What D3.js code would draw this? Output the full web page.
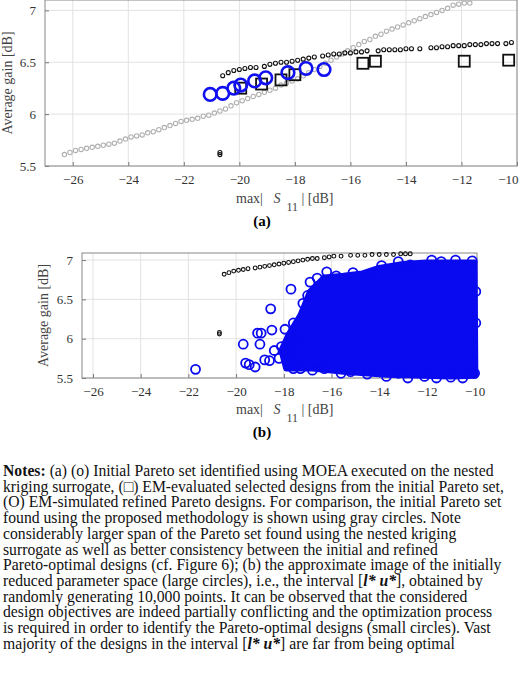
<!DOCTYPE html>
<html><head><meta charset="utf-8">
<script src="https://cdn.jsdelivr.net/npm/d3@7"></script>
<style>body{margin:0;background:#fff}svg{display:block}text{font-family:"Liberation Serif","DejaVu Serif","Times New Roman",serif}</style></head>
<body><svg id="c" width="520" height="686"></svg>
<script>
const xTicks=[-26,-24,-22,-20,-18,-16,-14,-12,-10];
const yTicks=[5.5,6,6.5,7];
// (a) data
const grayA=[[-26.3,5.61],[-26.1,5.63],[-25.9,5.65],[-25.7,5.66],[-25.5,5.67],[-25.3,5.68],[-25.1,5.69],[-24.9,5.70],[-24.7,5.71],[-24.5,5.72],[-24.3,5.74],[-24.1,5.76],[-23.9,5.78],[-23.7,5.79],[-23.5,5.80],[-23.3,5.82],[-23.1,5.83],[-22.9,5.85],[-22.7,5.87],[-22.5,5.89],[-22.3,5.91],[-22.1,5.93],[-21.9,5.94],[-21.7,5.95],[-21.5,5.96],[-21.3,5.98],[-21.1,5.99],[-20.9,6.01],[-20.7,6.03],[-20.5,6.05],[-20.3,6.08],[-20.1,6.11],[-19.9,6.13],[-19.7,6.15],[-19.5,6.17],[-19.3,6.19],[-19.1,6.21],[-18.9,6.23],[-18.7,6.25],[-18.5,6.28],[-18.3,6.30],[-18.1,6.32],[-17.9,6.34],[-17.7,6.37],[-17.5,6.40],[-17.3,6.43],[-17.1,6.46],[-16.9,6.49],[-16.7,6.52],[-16.5,6.55],[-16.3,6.58],[-16.1,6.61],[-15.9,6.64],[-15.7,6.67],[-15.5,6.70],[-15.3,6.72],[-15.1,6.75],[-14.9,6.77],[-14.7,6.80],[-14.5,6.82],[-14.3,6.84],[-14.1,6.86],[-13.9,6.88],[-13.7,6.90],[-13.5,6.92],[-13.3,6.94],[-13.1,6.96],[-12.9,6.98],[-12.7,7.00],[-12.5,7.02],[-12.3,7.05],[-12.1,7.06],[-11.9,7.07],[-11.7,7.07]];
const blackA=[[-20.6,6.37],[-20.4,6.40],[-20.2,6.42],[-20.0,6.43],[-19.8,6.44],[-19.6,6.45],[-19.4,6.45],[-19.1,6.46],[-18.9,6.48],[-18.7,6.49],[-18.5,6.50],[-18.3,6.50],[-18.1,6.51],[-17.9,6.52],[-17.7,6.53],[-17.5,6.54],[-17.3,6.55],[-17.0,6.56],[-16.8,6.57],[-16.6,6.58],[-16.4,6.58],[-16.2,6.59],[-16.0,6.59],[-15.8,6.60],[-15.6,6.60],[-15.4,6.61],[-15.0,6.61],[-14.8,6.62],[-14.6,6.62],[-14.4,6.62],[-14.2,6.62],[-14.0,6.63],[-13.8,6.63],[-13.5,6.63],[-13.1,6.64],[-12.9,6.64],[-12.7,6.65],[-12.5,6.65],[-12.3,6.66],[-12.1,6.66],[-11.9,6.66],[-11.7,6.67],[-11.5,6.67],[-11.3,6.67],[-11.1,6.68],[-10.9,6.68],[-10.7,6.68],[-10.4,6.68],[-10.2,6.69],[-20.7,5.61],[-20.7,5.63]];
const blueA=[[-21.05,6.19],[-20.6,6.20],[-20.2,6.25],[-19.95,6.28],[-19.45,6.32],[-19.05,6.35],[-18.25,6.40],[-17.6,6.44],[-16.95,6.43]];
const squaresA=[[-19.95,6.25],[-19.2,6.29],[-18.5,6.33],[-18.0,6.38],[-15.55,6.49],[-15.1,6.51],[-11.9,6.51],[-10.3,6.52]];
// (b) data
const blackB=[[-20.5,6.82],[-20.3,6.84],[-20.1,6.86],[-19.9,6.87],[-19.7,6.88],[-19.5,6.89],[-19.2,6.90],[-19.0,6.91],[-18.8,6.92],[-18.6,6.93],[-18.4,6.94],[-18.2,6.95],[-18.0,6.96],[-17.8,6.97],[-17.6,6.98],[-17.4,6.99],[-17.2,7.00],[-17.0,7.01],[-16.8,7.02],[-16.6,7.02],[-16.3,7.03],[-16.1,7.04],[-15.9,7.05],[-15.6,7.05],[-15.2,7.06],[-14.9,7.06],[-14.6,7.06],[-14.3,7.07],[-14.0,7.07],[-13.7,7.07],[-13.4,7.07],[-13.1,7.08],[-12.9,7.08],[-12.7,7.08],[-20.7,6.06],[-20.7,6.08]];
const blueOut=[[-21.7,5.61],[-19.7,5.93],[-19.6,5.69],[-19.45,5.67],[-19.2,5.64],[-19.1,6.07],[-18.95,6.07],[-19.0,5.93],[-18.8,5.73],[-18.6,5.72],[-18.55,6.38],[-18.5,6.11],[-18.2,5.75],[-17.7,6.63],[-17.95,6.12],[-18.4,5.85],[-18.1,5.9],[-17.8,5.68],[-17.6,5.62],[-17.2,6.45],[-17.6,6.2],[-17.3,5.62],[-16.9,6.72],[-16.6,6.77],[-16.2,6.85],[-15.8,6.8],[-15.1,6.84],[-14.4,6.82],[-13.9,6.93],[-13.2,6.98],[-12.7,6.94],[-11.8,7.0],[-11.4,6.98],[-10.8,7.0],[-10.1,6.99],[-17.0,6.55],[-16.8,5.6],[-16.3,5.62],[-15.6,5.56],[-15.2,5.58],[-14.5,5.55],[-13.7,5.52],[-13.2,5.56],[-12.8,5.5],[-12.1,5.52],[-11.6,5.5],[-11.0,5.51],[-10.5,5.5],[-10.0,5.56],[-9.95,6.2],[-9.95,6.6],[-17.4,6.0],[-17.7,5.85]];
const cloud=[[-17.9,5.62],[-18.1,5.85],[-17.8,6.05],[-17.3,6.3],[-16.9,6.6],[-16.3,6.78],[-15.5,6.8],[-14.7,6.83],[-14.0,6.9],[-13.0,6.95],[-12.0,6.97],[-10.0,6.97],[-9.97,5.53],[-11,5.52],[-13.7,5.54],[-15.5,5.58],[-16.8,5.62]];

const svg=d3.select("#c");
const FF='"Liberation Serif","DejaVu Serif",serif';
function panel(o){
  const g=svg.append("g");
  const x=d3.scaleLinear().domain(o.xd).range([o.l,o.r]);
  const y=d3.scaleLinear().domain(o.yd).range([o.b,o.t]);
  g.append("g").selectAll("line").data(xTicks).join("line").attr("x1",d=>x(d)).attr("x2",d=>x(d)).attr("y1",o.t).attr("y2",o.b).attr("stroke","#e2e2e2");
  g.append("g").selectAll("line").data(yTicks).join("line").attr("y1",d=>y(d)).attr("y2",d=>y(d)).attr("x1",o.l).attr("x2",o.r).attr("stroke","#e2e2e2");
  g.append("g").attr("transform",`translate(0,${o.b})`).call(d3.axisBottom(x).tickValues(xTicks).tickSize(-4).tickPadding(9).tickFormat(d=>String(d).replace("-","\u2212")))
   .call(a=>{a.select(".domain").remove();a.attr("font-family",FF).attr("font-size",13);a.selectAll("line").attr("stroke","#777");a.selectAll("text").attr("fill","#333");
     if(o.lastEnd) a.selectAll("text").filter(d=>d===-10).attr("text-anchor","end").attr("x",518-x(-10));});
  g.append("g").attr("transform",`translate(${o.l},0)`).call(d3.axisLeft(y).tickValues(yTicks).tickSize(-4).tickPadding(9).tickFormat(d=>d))
   .call(a=>{a.select(".domain").remove();a.attr("font-family",FF).attr("font-size",13);a.selectAll("line").attr("stroke","#777");a.selectAll("text").attr("fill","#333");});
  g.append("rect").attr("x",o.l).attr("y",o.t).attr("width",o.r-o.l).attr("height",o.b-o.t).attr("fill","none").attr("stroke","#888");
  g.append("text").attr("transform",`translate(${o.yl},${(o.t+o.b)/2}) rotate(-90)`).attr("text-anchor","middle").attr("font-size",14).attr("fill","#444").text("Average gain [dB]");
  const xl=g.append("text").attr("x",o.xlx).attr("y",o.xly).attr("font-size",14).attr("fill","#444");
  xl.append("tspan").text("max|\u00a0\u00a0\u00a0");
  xl.append("tspan").attr("font-style","italic").text("S");
  xl.append("tspan").attr("dy",8).attr("font-size",12).text("\u00a0\u00a011");
  xl.append("tspan").attr("dy",-8).text(" | [dB]");
  g.append("text").attr("x",o.capx).attr("y",o.capy).attr("text-anchor","middle").attr("font-weight","bold").attr("font-size",15).text(o.cap);
  return {g,x,y};
}
const A=panel({xd:[-27,-10],yd:[5.5,7.1],l:45,r:517,t:0,b:166,yl:12,xlx:236,xly:203,capx:262,capy:226,cap:"(a)",lastEnd:true});
A.g.append("g").selectAll("circle").data(grayA).join("circle").attr("cx",d=>A.x(d[0])).attr("cy",d=>A.y(d[1])).attr("r",2.2).attr("fill","none").attr("stroke","#b0b0b0").attr("stroke-width",1.1);
A.g.append("g").selectAll("circle").data(blackA).join("circle").attr("cx",d=>A.x(d[0])).attr("cy",d=>A.y(d[1])).attr("r",2).attr("fill","none").attr("stroke","#111").attr("stroke-width",1.1);
A.g.append("g").selectAll("rect").data(squaresA).join("rect").attr("x",d=>A.x(d[0])-5.5).attr("y",d=>A.y(d[1])-5.5).attr("width",11).attr("height",11).attr("fill","none").attr("stroke","#111").attr("stroke-width",1.8);
A.g.append("g").selectAll("circle").data(blueA).join("circle").attr("cx",d=>A.x(d[0])).attr("cy",d=>A.y(d[1])).attr("r",6.3).attr("fill","none").attr("stroke","#1010f0").attr("stroke-width",2.6);

const B=panel({xd:[-26.46,-9.9],yd:[5.5,7.09],l:82,r:477,t:253,b:378,yl:48,xlx:236,xly:414,capx:262,capy:437,cap:"(b)"});
B.g.append("g").selectAll("circle").data(blackB).join("circle").attr("cx",d=>B.x(d[0])).attr("cy",d=>B.y(d[1])).attr("r",1.9).attr("fill","none").attr("stroke","#111").attr("stroke-width",1.1);
B.g.append("path").datum(cloud).attr("d",d3.line().x(d=>B.x(d[0])).y(d=>B.y(d[1])).curve(d3.curveLinearClosed)).attr("fill","#0a0af0").attr("stroke","#0a0af0").attr("stroke-width",6).attr("stroke-linejoin","round");
B.g.append("g").selectAll("circle").data(blueOut).join("circle").attr("cx",d=>B.x(d[0])).attr("cy",d=>B.y(d[1])).attr("r",4.5).attr("fill","none").attr("stroke","#0a0af0").attr("stroke-width",1.8);

const notes=[
[["b","Notes:"],[""," (a) (o) Initial Pareto set identified using MOEA executed on the nested"]],
[["","kriging surrogate, (\u25A1) EM-evaluated selected designs from the initial Pareto set,"]],
[["","(O) EM-simulated refined Pareto designs. For comparison, the initial Pareto set"]],
[["","found using the proposed methodology is shown using gray circles. Note"]],
[["","considerably larger span of the Pareto set found using the nested kriging"]],
[["","surrogate as well as better consistency between the initial and refined"]],
[["","Pareto-optimal designs (cf. Figure 6); (b) the approximate image of the initially"]],
[["","reduced parameter space (large circles), i.e., the interval ["],["bi","l* u*"],["","], obtained by"]],
[["","randomly generating 10,000 points. It can be observed that the considered"]],
[["","design objectives are indeed partially conflicting and the optimization process"]],
[["","is required in order to identify the Pareto-optimal designs (small circles). Vast"]],
[["","majority of the designs in the interval ["],["bi","l* u*"],["","] are far from being optimal"]]];
notes.forEach((ln,i)=>{
  const t=svg.append("text").attr("x",3).attr("y",476+i*15.7).attr("font-size",15.7).attr("fill","#111").attr("xml:space","preserve");
  ln.forEach(([s,txt])=>{const sp=t.append("tspan").text(txt);
    if(s.includes("b"))sp.attr("font-weight","bold"); if(s.includes("i"))sp.attr("font-style","italic");});
});
</script></body></html>
